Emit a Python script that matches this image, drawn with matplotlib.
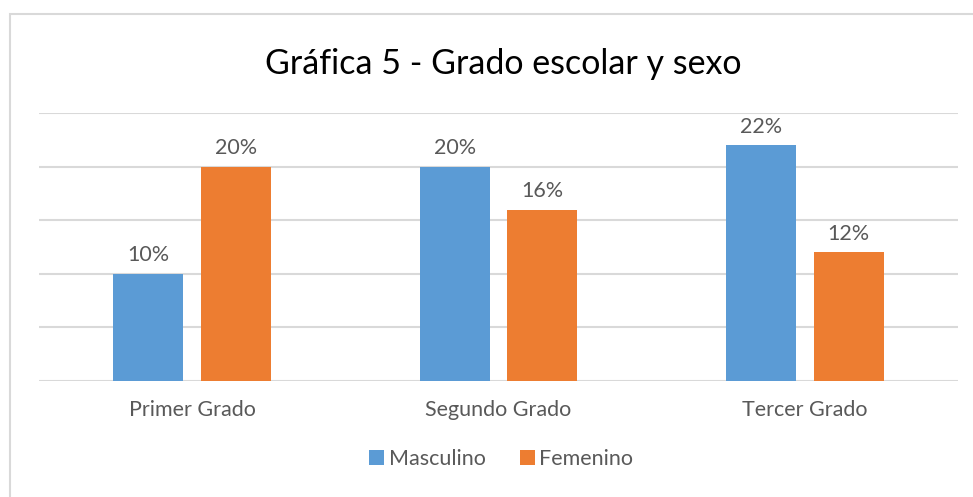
import numpy as np
import matplotlib.pyplot as plt
from matplotlib.patches import Rectangle
from matplotlib.ticker import PercentFormatter

# datos
categorias = ["Primer Grado", "Segundo Grado", "Tercer Grado"]
masculino = [0.10, 0.20, 0.22]
femenino = [0.20, 0.16, 0.12]
etiquetas_m = ["10%", "20%", "22%"]
etiquetas_f = ["20%", "16%", "12%"]

azul = "#5B9BD5"
naranja = "#ED7D31"
gris_texto = "#595959"

plt.rcParams["font.family"] = ["Lato", "DejaVu Sans"]

fig = plt.figure(figsize=(9.73, 4.97), dpi=100)
ax = fig.add_axes([0.0401, 0.234, 0.9445, 0.538])

# borde del grafico
fig.patches.append(Rectangle((10 / 973, -0.1), 1.1, 1 - 14 / 497 + 0.1,
                             transform=fig.transFigure, fill=False,
                             edgecolor="#D9D9D9", linewidth=1.5))

x = np.arange(len(categorias))
ancho = 0.2285
off = 0.1427
b1 = ax.bar(x - off, masculino, ancho, color=azul, label="Masculino", zorder=3)
b2 = ax.bar(x + off, femenino, ancho, color=naranja, label="Femenino", zorder=3)

for barras, etiquetas in [(b1, etiquetas_m), (b2, etiquetas_f)]:
    for r, t in zip(barras, etiquetas):
        ax.annotate(t, (r.get_x() + r.get_width() / 2, r.get_height()),
                    xytext=(0, 6), textcoords="offset points",
                    ha="center", va="bottom", fontsize=15.5, color=gris_texto)

ax.set_xlim(-0.5, 2.5)
ax.set_ylim(0, 0.25)
ax.set_yticks(np.arange(0, 0.26, 0.05))
ax.yaxis.set_major_formatter(PercentFormatter(1.0))
ax.tick_params(axis="y", left=False, labelleft=False)
ax.set_xticks(x)
ax.set_xticklabels(categorias, fontsize=15.5, color=gris_texto)
ax.tick_params(axis="x", length=0, pad=14)
ax.grid(axis="y", color="#D9D9D9", linewidth=1.5, zorder=0)
for s in ax.spines.values():
    s.set_visible(False)

fig.text(0.517, 0.872, "Gráfica 5 - Grado escolar y sexo", ha="center",
         va="center", fontsize=24.5, color="black")

ax.legend(loc="center", bbox_to_anchor=(0.503, -0.293), ncol=2, frameon=False,
          fontsize=15.5, handlelength=0.7, handleheight=0.7, handletextpad=0.2,
          columnspacing=1.6, labelcolor=gris_texto)

plt.savefig("out.png", dpi=100)
